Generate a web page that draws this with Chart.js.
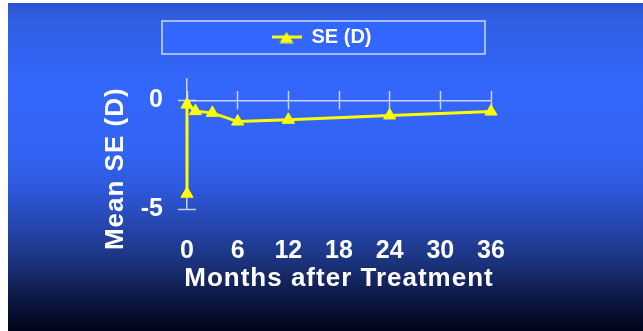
<!DOCTYPE html>
<html>
<head>
<meta charset="utf-8">
<script src="https://cdn.jsdelivr.net/npm/chart.js@4.4.0/dist/chart.umd.min.js"></script>
<style>
  html, body { margin: 0; padding: 0; background: #fff; }
  #wrap { width: 643px; height: 331px; position: relative; }
</style>
</head>
<body>
<div id="wrap"><canvas id="se-chart"></canvas></div>
<script>
// values
const months = [0, 0, 1, 3, 6, 12, 24, 36];
const meanSE = [-4.3, -0.2, -0.5, -0.58, -0.98, -0.9, -0.7, -0.52];
const xTickValues = [0, 6, 12, 18, 24, 30, 36];
const yTickValues = [-5, 0];
const seriesLabel = 'SE (D)';
const xTitle = 'Months after Treatment';
const yTitle = 'Mean SE (D)';

const YELLOW = '#ffff00';
const AXIS = 'rgba(235,240,255,0.8)';
const FONT = "'Liberation Sans', Arial, sans-serif";

// legend icon: line with a triangle on it
function legendIcon() {
  const c = document.createElement('canvas');
  c.width = 30; c.height = 12;
  const g = c.getContext('2d');
  g.strokeStyle = YELLOW; g.lineWidth = 3;
  g.beginPath(); g.moveTo(0, 5.5); g.lineTo(30, 5.5); g.stroke();
  g.fillStyle = YELLOW;
  g.beginPath(); g.moveTo(15, 0.5); g.lineTo(22, 11.5); g.lineTo(8, 11.5); g.closePath(); g.fill();
  return c;
}

const slideBackground = {
  id: 'slideBackground',
  beforeDraw(chart) {
    const ctx = chart.ctx;
    const w = chart.width, h = chart.height;
    ctx.save();
    ctx.fillStyle = '#ffffff';
    ctx.fillRect(0, 0, w, h);
    const g = ctx.createLinearGradient(0, 3, 0, h);
    g.addColorStop(0, '#2e52cc');
    g.addColorStop(0.052, '#3060e4');
    g.addColorStop(0.235, '#3366fb');
    g.addColorStop(0.448, '#3264f4');
    g.addColorStop(0.57, '#2d58da');
    g.addColorStop(0.692, '#2444a8');
    g.addColorStop(0.799, '#1a3178');
    g.addColorStop(0.89, '#0e1a48');
    g.addColorStop(1, '#00041a');
    ctx.fillStyle = g;
    ctx.fillRect(8, 3, w - 8, h - 3);

    // framed legend box
    const hb = chart.legend.legendHitBoxes[0];
    if (hb) {
      const cy = hb.top + hb.height / 2;
      ctx.fillStyle = '#3366ff';
      ctx.fillRect(162, cy - 16.5, 323, 33);
      ctx.strokeStyle = 'rgba(220,228,255,0.9)';
      ctx.lineWidth = 1.5;
      ctx.strokeRect(162, cy - 16.5, 323, 33);
    }
    ctx.restore();

    // spaced-out axis titles (no squeezing), y title shifted down like the slide
    [['x', 0], ['y', 25]].forEach(([id, dy]) => {
      const scale = chart.scales[id];
      if (!scale || scale._patched) return;
      const orig = scale.drawTitle;
      scale.drawTitle = function () {
        const c = this.ctx;
        const box = { left: this.left, right: this.right, top: this.top, bottom: this.bottom };
        if (this.isHorizontal()) { this.left -= 60; this.right += 60; }
        else { this.top -= 60; this.bottom += 60; }
        c.save();
        c.letterSpacing = '1px';
        c.translate(0, dy);
        orig.call(this);
        c.restore();
        Object.assign(this, box);
      };
      scale._patched = true;
    });
  }
};

const keepXTicks = (scale) => { scale.ticks = xTickValues.map(v => ({ value: v })); };
const keepYTicks = (scale) => { scale.ticks = yTickValues.map(v => ({ value: v })); };

Chart.defaults.color = '#ffffff';
Chart.defaults.font.family = FONT;

const ctx = document.getElementById('se-chart');

new Chart(ctx, {
  type: 'line',
  data: {
    datasets: [{
      label: seriesLabel,
      data: months.map((m, i) => ({ x: m, y: meanSE[i] })),
      borderColor: YELLOW,
      backgroundColor: YELLOW,
      borderWidth: 3,
      tension: 0,
      clip: false,
      pointStyle: 'triangle',
      pointRadius: 7,
      pointBorderWidth: 1,
      pointBackgroundColor: YELLOW,
      pointBorderColor: YELLOW,
      xAxisID: 'x',
      yAxisID: 'y'
    }]
  },
  options: {
    responsive: true,
    maintainAspectRatio: false,
    animation: false,
    layout: { padding: { top: 8, left: 0, right: 0, bottom: 0 } },
    plugins: {
      tooltip: { enabled: false },
      legend: {
        position: 'top',
        labels: {
          usePointStyle: true,
          pointStyleWidth: 30,
          padding: 19.5,
          color: '#ffffff',
          font: { size: 20, weight: 'bold', family: FONT },
          generateLabels: (chart) => [{
            text: seriesLabel,
            pointStyle: legendIcon(),
            fillStyle: YELLOW,
            strokeStyle: YELLOW,
            lineWidth: 0,
            fontColor: '#ffffff',
            datasetIndex: 0,
            hidden: false
          }]
        }
      }
    },
    scales: {
      x: {
        type: 'linear',
        position: 'bottom',
        min: 0, max: 36,
        afterBuildTicks: keepXTicks,
        afterFit: (s) => { s.height = 122; },
        grid: { display: false, drawTicks: false },
        border: { display: false },
        ticks: { padding: 27, color: '#ffffff', font: { size: 25, weight: 'bold' } },
        title: {
          display: true,
          text: xTitle,
          color: '#ffffff',
          font: { size: 26, weight: 'bold' },
          padding: { top: 0, bottom: 37 }
        }
      },
      xTopGap: {
        type: 'linear',
        position: 'top',
        min: 0, max: 36,
        afterFit: (s) => { s.height = 21; },
        ticks: { display: false },
        grid: { display: false, drawTicks: false },
        border: { display: false }
      },
      xZeroDown: {
        type: 'linear',
        position: { y: 0 },
        min: 0, max: 36,
        afterBuildTicks: keepXTicks,
        ticks: { display: false },
        grid: { drawOnChartArea: false, drawTicks: true, tickLength: 8, color: AXIS, tickColor: AXIS, tickWidth: 1.5 },
        border: { display: true, color: AXIS, width: 1.5 }
      },
      xZeroUp: {
        type: 'linear',
        position: { y: 0 },
        min: 0, max: 36,
        afterBuildTicks: keepXTicks,
        ticks: { display: false },
        grid: { drawOnChartArea: false, drawTicks: true, tickLength: -9, color: AXIS, tickColor: AXIS, tickWidth: 1.5 },
        border: { display: false }
      },
      y: {
        type: 'linear',
        position: 'left',
        min: -5, max: 1,
        afterBuildTicks: keepYTicks,
        afterFit: (s) => { s.width = 187; },
        grid: { drawOnChartArea: false, drawTicks: true, tickLength: 9, color: AXIS, tickColor: AXIS, tickWidth: 1.5 },
        border: { display: true, color: AXIS, width: 1.5 },
        ticks: { padding: 15, color: '#ffffff', font: { size: 25, weight: 'bold' } },
        title: {
          display: true,
          text: yTitle,
          color: '#ffffff',
          font: { size: 26, weight: 'bold' },
          padding: { top: 100, bottom: 0 }
        }
      },
      yInner: {
        type: 'linear',
        position: { x: 0 },
        min: -5, max: 1,
        afterBuildTicks: keepYTicks,
        ticks: { display: false },
        grid: { drawOnChartArea: false, drawTicks: true, tickLength: -9, color: AXIS, tickColor: AXIS, tickWidth: 1.5 },
        border: { display: false }
      },
      yRight: {
        type: 'linear',
        position: 'right',
        min: -5, max: 1,
        afterFit: (s) => { s.width = 152; },
        ticks: { display: false },
        grid: { display: false, drawTicks: false },
        border: { display: false }
      }
    }
  },
  plugins: [slideBackground]
});
</script>
</body>
</html>
